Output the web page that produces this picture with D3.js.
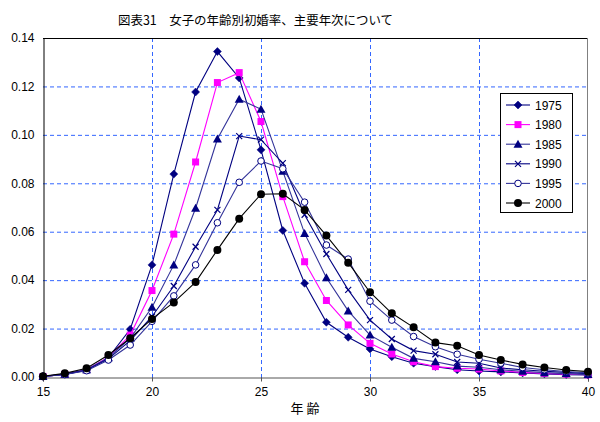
<!DOCTYPE html>
<html><head><meta charset="utf-8">
<script src="https://cdn.jsdelivr.net/npm/d3@7"></script>
<style>body{margin:0;background:#fff;}svg{display:block;}</style>
</head><body>
<svg id="c" width="600" height="422"></svg>
<script>
const ages = d3.range(15, 41);
const seriesNames = ["1975","1980","1985","1990","1995","2000"];
const s1975 = [0.0003,0.0012,0.003,0.008,0.0197,0.0463,0.0838,0.1177,0.1344,0.1235,0.0938,0.0605,0.0387,0.0226,0.0164,0.0116,0.0084,0.0057,0.0043,0.003,0.0025,0.0021,0.0017,0.0013,0.0010,0.0008];
const s1980 = [0.0002,0.0011,0.003,0.0082,0.0173,0.0357,0.059,0.0888,0.1216,0.1257,0.1055,0.0745,0.0476,0.0316,0.0215,0.0139,0.0095,0.0063,0.0043,0.0036,0.0033,0.0025,0.0019,0.0015,0.0012,0.0009];
const s1985 = [0.0002,0.0011,0.003,0.008,0.016,0.0288,0.0463,0.0697,0.0983,0.1147,0.1106,0.085,0.0593,0.041,0.0273,0.0173,0.0123,0.0077,0.0063,0.0045,0.004,0.003,0.0024,0.0018,0.0014,0.001];
const s1990 = [0.0002,0.0011,0.0028,0.0075,0.015,0.025,0.0376,0.0538,0.069,0.0995,0.098,0.0883,0.067,0.0508,0.036,0.0235,0.0157,0.0109,0.0094,0.0062,0.0057,0.0037,0.003,0.0024,0.0019,0.0014];
const s1995 = [0.0002,0.001,0.0026,0.007,0.0132,0.023,0.0335,0.0463,0.0637,0.0804,0.0892,0.086,0.0722,0.0545,0.0487,0.0313,0.0235,0.0167,0.0125,0.0094,0.0073,0.0057,0.0039,0.003,0.0023,0.0017];
const s2000 = [0.0003,0.0015,0.0036,0.0091,0.016,0.024,0.0308,0.0392,0.0525,0.0654,0.0755,0.0757,0.069,0.0584,0.0472,0.035,0.0263,0.0205,0.0142,0.0129,0.0091,0.007,0.0052,0.0039,0.0029,0.0022];
const xTicks = [15,20,25,30,35,40];
const yTicks = [0,0.02,0.04,0.06,0.08,0.10,0.12,0.14];
const titleText = "図表31　女子の年齢別初婚率、主要年次について";
const xAxisTitle = "年 齢";

const allSeries = [s1975,s1980,s1985,s1990,s1995,s2000];
const styles = [
  {line:"#000080", mark:"diamond", fill:"#000080", stroke:"#000080"},
  {line:"#FF00FF", mark:"square", fill:"#FF00FF", stroke:"#FF00FF"},
  {line:"#333399", mark:"triangle", fill:"#000080", stroke:"#000080"},
  {line:"#000080", mark:"x", fill:"none", stroke:"#000080"},
  {line:"#333399", mark:"circle", fill:"#ffffff", stroke:"#000080"},
  {line:"#000000", mark:"dot", fill:"#000000", stroke:"#000000"}
];

const svg = d3.select("#c");
const L=43, R=588, T=38, B=377;
const x = d3.scaleLinear().domain([15,40]).range([L,R]);
const y = d3.scaleLinear().domain([0,0.14]).range([B,T]);
const font = "'Liberation Sans', Arial, sans-serif";
const cjk = "'Noto Sans CJK JP', sans-serif";

// title
svg.append("text").attr("x",118).attr("y",25).attr("font-family",cjk).attr("font-size",12.5)
  .attr("textLength",275).attr("lengthAdjust","spacingAndGlyphs")
  .attr("fill","#000").text(titleText);

// grid
const grid = svg.append("g");
grid.selectAll("line.h").data(yTicks.filter(v=>v>0 && v<0.14)).enter().append("line")
  .attr("x1",L).attr("x2",R).attr("y1",d=>y(d)+0.5).attr("y2",d=>y(d)+0.5)
  .attr("stroke","#3366FF").attr("stroke-width",1).attr("stroke-dasharray","4,3");
grid.selectAll("line.v").data(xTicks.filter(v=>v>15 && v<40)).enter().append("line")
  .attr("x1",d=>Math.round(x(d))+0.5).attr("x2",d=>Math.round(x(d))+0.5).attr("y1",T).attr("y2",B+4)
  .attr("stroke","#3366FF").attr("stroke-width",1).attr("stroke-dasharray","4,3");

// frame
svg.append("line").attr("x1",L).attr("x2",R).attr("y1",T+0.5).attr("y2",T+0.5).attr("stroke","#000");
svg.append("line").attr("x1",R-0.5).attr("x2",R-0.5).attr("y1",T).attr("y2",B).attr("stroke","#808080");

// axes
const xAxis = d3.axisBottom(x).tickValues(xTicks).tickSize(4).tickFormat(d3.format("d"));
const gx = svg.append("g").attr("transform",`translate(0,${B+0.5})`).call(xAxis);
gx.select(".domain").attr("stroke","#555");
gx.selectAll(".tick line").attr("stroke","#555");
gx.selectAll("text").attr("font-family",font).attr("font-size",12).attr("fill","#000").attr("dy","0.95em");
const yAxis = d3.axisLeft(y).tickValues(yTicks).tickSize(0).tickPadding(9).tickFormat(d3.format(".2f"));
const gy = svg.append("g").attr("transform",`translate(${L+0.5},0)`).call(yAxis);
gy.select(".domain").attr("stroke","#000");
gy.selectAll("text").attr("font-family",font).attr("font-size",12).attr("fill","#000");

svg.append("text").attr("x",305).attr("y",413).attr("text-anchor","middle").attr("font-family",cjk)
  .attr("font-size",13).text(xAxisTitle);

// markers
function drawMarker(g, type, st, cx, cy){
  if(type==="diamond"){
    g.append("path").attr("d",`M${cx},${cy-4}L${cx+4},${cy}L${cx},${cy+4}L${cx-4},${cy}Z`).attr("fill",st.fill).attr("stroke",st.stroke).attr("stroke-width",0.5);
  } else if(type==="square"){
    g.append("rect").attr("x",cx-3.5).attr("y",cy-3.5).attr("width",7).attr("height",7).attr("fill",st.fill);
  } else if(type==="triangle"){
    g.append("path").attr("d",`M${cx},${cy-4.5}L${cx+4.5},${cy+3.5}L${cx-4.5},${cy+3.5}Z`).attr("fill",st.fill);
  } else if(type==="x"){
    g.append("path").attr("d",`M${cx-3},${cy-3}L${cx+3},${cy+3}M${cx-3},${cy+3}L${cx+3},${cy-3}`).attr("stroke",st.stroke).attr("stroke-width",1.2);
  } else if(type==="circle"){
    g.append("circle").attr("cx",cx).attr("cy",cy).attr("r",3.3).attr("fill",st.fill).attr("stroke",st.stroke).attr("stroke-width",1);
  } else if(type==="dot"){
    g.append("circle").attr("cx",cx).attr("cy",cy).attr("r",4).attr("fill",st.fill);
  }
}

const line = d3.line().x((d,i)=>x(ages[i])).y(d=>y(d));
allSeries.forEach((s,k)=>{
  const st = styles[k];
  const g = svg.append("g");
  g.append("path").attr("d",line(s)).attr("fill","none").attr("stroke",st.line).attr("stroke-width",1.1);
  s.forEach((v,i)=>drawMarker(g, st.mark, st, x(ages[i]), y(v)));
});

// legend
const lg = svg.append("g");
lg.append("rect").attr("x",500.5).attr("y",93.5).attr("width",72).attr("height",119).attr("fill","#fff").attr("stroke","#000");
seriesNames.forEach((n,k)=>{
  const st = styles[k];
  const yy = 105 + k*19.6;
  lg.append("line").attr("x1",506).attr("x2",530).attr("y1",yy).attr("y2",yy).attr("stroke",st.line).attr("stroke-width",1.1);
  drawMarker(lg, st.mark, st, 518, yy);
  lg.append("text").attr("x",535).attr("y",yy+4.5).attr("font-family",font).attr("font-size",12).text(n);
});
</script>
</body></html>
